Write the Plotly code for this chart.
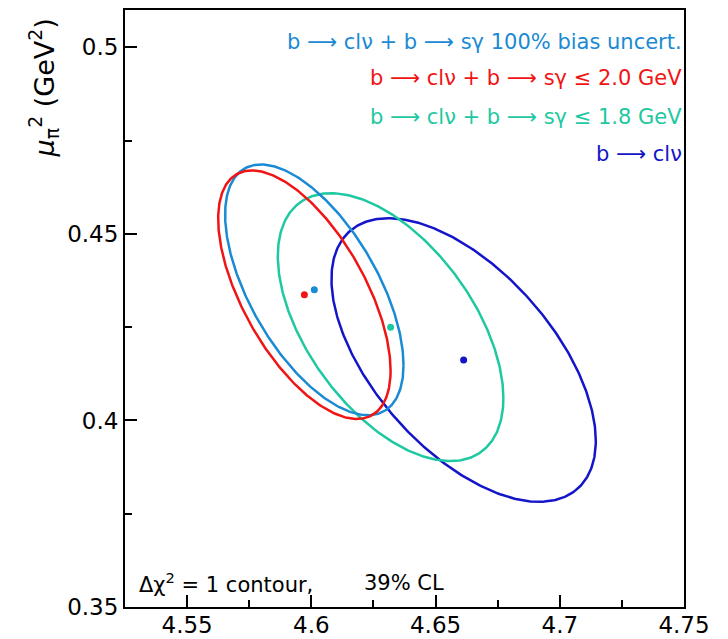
import numpy as np
import plotly.graph_objects as go

# Fit results (Delta chi^2 = 1 contours)
labels = [
    "b ⟶ clν + b ⟶ sγ 100% bias uncert.",
    "b ⟶ clν + b ⟶ sγ ≤ 2.0 GeV",
    "b ⟶ clν + b ⟶ sγ ≤ 1.8 GeV",
    "b ⟶ clν",
]
colors = ["#1a8ad4", "#f01414", "#1ec8a0", "#1414c8"]
center_mb = [4.6012, 4.5972, 4.6319, 4.6613]
center_mu2 = [0.4350, 0.4337, 0.4250, 0.4162]
sigma_mb = [0.0359, 0.0347, 0.0454, 0.0532]
sigma_mu2 = [0.0336, 0.0333, 0.0359, 0.0380]
rho = [-0.60, -0.61, -0.53, -0.57]

x_ticks = [4.55, 4.6, 4.65, 4.7, 4.75]
x_ticklabels = ["4.55", "4.6", "4.65", "4.7", "4.75"]
y_ticks = [0.35, 0.4, 0.45, 0.5]
y_ticklabels = ["0.35", "0.4", "0.45", "0.5"]

fig = go.Figure()
t = np.linspace(0, 2 * np.pi, 400)
order = [3, 2, 0, 1]
for i in order:
    sx, sy, r = sigma_mb[i], sigma_mu2[i], rho[i]
    cov = np.array([[sx * sx, r * sx * sy], [r * sx * sy, sy * sy]])
    L = np.linalg.cholesky(cov)
    circ = np.vstack([np.cos(t), np.sin(t)])
    pts = L @ circ
    fig.add_trace(go.Scatter(x=center_mb[i] + pts[0], y=center_mu2[i] + pts[1],
                             mode="lines", line=dict(color=colors[i], width=2.5),
                             showlegend=False, hoverinfo="skip"))
    fig.add_trace(go.Scatter(x=[center_mb[i]], y=[center_mu2[i]], mode="markers",
                             marker=dict(color=colors[i], size=7),
                             showlegend=False, hoverinfo="skip"))

font_family = "DejaVu Sans"
legend_ypos = [0.9466, 0.8865, 0.8214, 0.7596]
for i, lab in enumerate(labels):
    fig.add_annotation(x=1.0, xref="paper", y=legend_ypos[i], yref="paper",
                       text=lab, showarrow=False, xanchor="right", yanchor="middle",
                       font=dict(family=font_family, size=21, color=colors[i]))

fig.add_annotation(x=0.021, xref="paper", y=0.04, yref="paper",
                   text="Δχ<sup>2</sup> = 1 contour,", showarrow=False,
                   xanchor="left", yanchor="middle",
                   font=dict(family=font_family, size=21, color="black"))
fig.add_annotation(x=0.424, xref="paper", y=0.04, yref="paper",
                   text="39% CL", showarrow=False,
                   xanchor="left", yanchor="middle",
                   font=dict(family=font_family, size=21, color="black"))

# y-axis title placed near the top, as in the reference
fig.add_annotation(x=-0.145, xref="paper", y=0.99, yref="paper",
                   text="<i>μ</i><sub>π</sub><sup>2</sup> (GeV<sup>2</sup>)", showarrow=False,
                   textangle=-90, xanchor="center", yanchor="top",
                   font=dict(family=font_family, size=27, color="black"))

fig.update_xaxes(range=[4.525, 4.75], tickvals=x_ticks, ticktext=x_ticklabels,
                 ticks="inside", ticklen=12, tickwidth=1.5, tickcolor="black",
                 minor=dict(dtick=0.025, ticks="inside", ticklen=7, tickwidth=1.5, tickcolor="black"),
                 showline=True, linecolor="black", linewidth=2, mirror=True,
                 showgrid=False, zeroline=False, ticklabelstandoff=-4,
                 tickfont=dict(family=font_family, size=23, color="black"))
fig.update_yaxes(range=[0.35, 0.51], tickvals=y_ticks, ticktext=y_ticklabels,
                 ticks="inside", ticklen=12, tickwidth=1.5, tickcolor="black",
                 minor=dict(dtick=0.025, ticks="inside", ticklen=7, tickwidth=1.5, tickcolor="black"),
                 showline=True, linecolor="black", linewidth=2, mirror=True,
                 showgrid=False, zeroline=False,
                 tickfont=dict(family=font_family, size=23, color="black"))

fig.update_layout(width=728, height=639, plot_bgcolor="white", paper_bgcolor="white",
                  margin=dict(l=117, r=52, t=0, b=40), showlegend=False)

fig.write_html("out.html")
